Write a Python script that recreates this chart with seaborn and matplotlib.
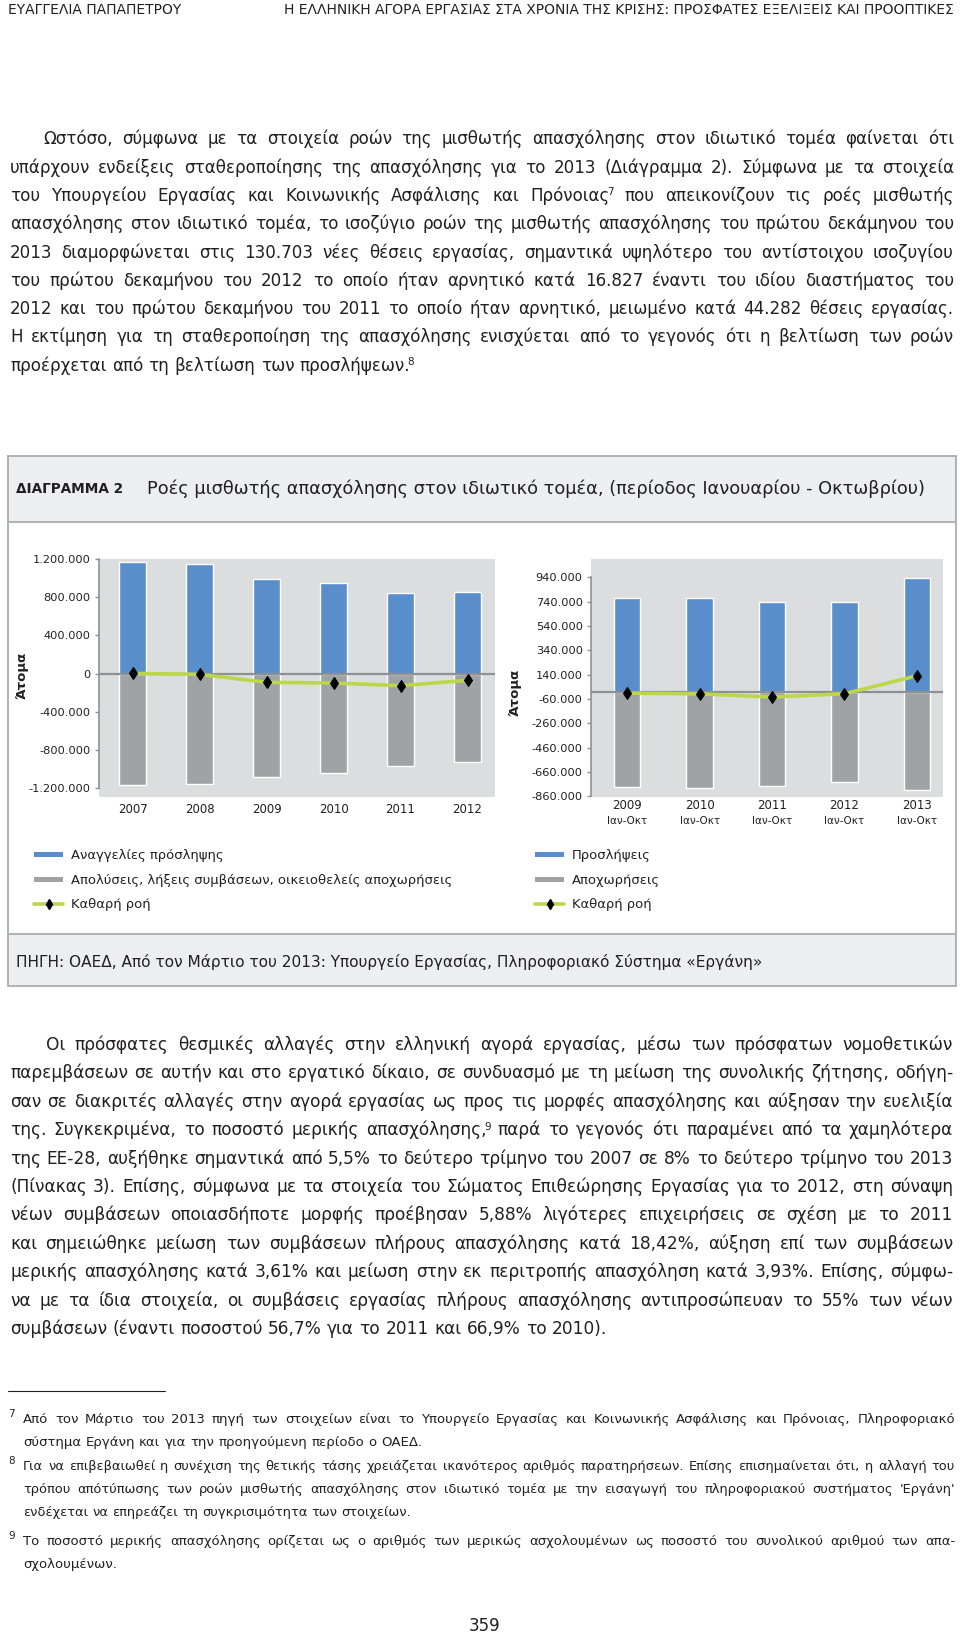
import numpy as np
import matplotlib
matplotlib.use('Agg')
import matplotlib.pyplot as plt
from matplotlib.font_manager import FontProperties
from matplotlib.patches import Rectangle
from matplotlib.lines import Line2D
import seaborn as sns

# left chart: yearly flows (announcements), persons
years_a = ['2007', '2008', '2009', '2010', '2011', '2012']
hires_a = [1172000, 1147000, 990000, 948000, 843000, 853000]
exits_a = [-1168000, -1154000, -1077000, -1039000, -965000, -920000]
net_a = [3000, -7000, -91000, -98000, -126000, -70000]
ticks_a = [-1200000, -800000, -400000, 0, 400000, 800000, 1200000]

# right chart: January-October flows
years_b = ['2009', '2010', '2011', '2012', '2013']
period_b = 'Ιαν-Οκτ'
hires_b = [768000, 773000, 735000, 735000, 938000]
exits_b = [-785000, -790000, -779000, -746000, -807000]
net_b = [-12000, -18000, -44282, -16827, 130703]
ticks_b = [-860000, -660000, -460000, -260000, -60000, 140000, 340000, 540000, 740000, 940000]

legend_a = ['Αναγγελίες πρόσληψης', 'Απολύσεις, λήξεις συμβάσεων, οικειοθελείς αποχωρήσεις', 'Καθαρή ροή']
legend_b = ['Προσλήψεις', 'Αποχωρήσεις', 'Καθαρή ροή']
y_label = 'Άτομα'

header_left = 'ΕΥΑΓΓΕΛΙΑ ΠΑΠΑΠΕΤΡΟΥ'
header_right = 'Η ΕΛΛΗΝΙΚΗ ΑΓΟΡΑ ΕΡΓΑΣΙΑΣ ΣΤΑ ΧΡΟΝΙΑ ΤΗΣ ΚΡΙΣΗΣ: ΠΡΟΣΦΑΤΕΣ ΕΞΕΛΙΞΕΙΣ ΚΑΙ ΠΡΟΟΠΤΙΚΕΣ'
chart_no = 'ΔΙΑΓΡΑΜΜΑ 2'
chart_title = 'Ροές μισθωτής απασχόλησης στον ιδιωτικό τομέα, (περίοδος Ιανουαρίου - Οκτωβρίου)'
source = 'ΠΗΓΗ: ΟΑΕΔ, Από τον Μάρτιο του 2013: Υπουργείο Εργασίας, Πληροφοριακό Σύστημα «Εργάνη»'

para1 = [
    'Ωστόσο, σύμφωνα με τα στοιχεία ροών της μισθωτής απασχόλησης στον ιδιωτικό τομέα φαίνεται ότι',
    'υπάρχουν ενδείξεις σταθεροποίησης της απασχόλησης για το 2013 (Διάγραμμα 2). Σύμφωνα με τα στοιχεία',
    'του Υπουργείου Εργασίας και Κοινωνικής Ασφάλισης και Πρόνοιας⁷ που απεικονίζουν τις ροές μισθωτής',
    'απασχόλησης στον ιδιωτικό τομέα, το ισοζύγιο ροών της μισθωτής απασχόλησης του πρώτου δεκάμηνου του',
    '2013 διαμορφώνεται στις 130.703 νέες θέσεις εργασίας, σημαντικά υψηλότερο του αντίστοιχου ισοζυγίου',
    'του πρώτου δεκαμήνου του 2012 το οποίο ήταν αρνητικό κατά 16.827 έναντι του ιδίου διαστήματος του',
    '2012 και του πρώτου δεκαμήνου του 2011 το οποίο ήταν αρνητικό, μειωμένο κατά 44.282 θέσεις εργασίας.',
    'Η εκτίμηση για τη σταθεροποίηση της απασχόλησης ενισχύεται από το γεγονός ότι η βελτίωση των ροών',
    'προέρχεται από τη βελτίωση των προσλήψεων.⁸',
]
para2 = [
    'Οι πρόσφατες θεσμικές αλλαγές στην ελληνική αγορά εργασίας, μέσω των πρόσφατων νομοθετικών',
    'παρεμβάσεων σε αυτήν και στο εργατικό δίκαιο, σε συνδυασμό με τη μείωση της συνολικής ζήτησης, οδήγη-',
    'σαν σε διακριτές αλλαγές στην αγορά εργασίας ως προς τις μορφές απασχόλησης και αύξησαν την ευελιξία',
    'της. Συγκεκριμένα, το ποσοστό μερικής απασχόλησης,⁹ παρά το γεγονός ότι παραμένει από τα χαμηλότερα',
    'της ΕΕ-28, αυξήθηκε σημαντικά από 5,5% το δεύτερο τρίμηνο του 2007 σε 8% το δεύτερο τρίμηνο του 2013',
    '(Πίνακας 3). Επίσης, σύμφωνα με τα στοιχεία του Σώματος Επιθεώρησης Εργασίας για το 2012, στη σύναψη',
    'νέων συμβάσεων οποιασδήποτε μορφής προέβησαν 5,88% λιγότερες επιχειρήσεις σε σχέση με το 2011',
    'και σημειώθηκε μείωση των συμβάσεων πλήρους απασχόλησης κατά 18,42%, αύξηση επί των συμβάσεων',
    'μερικής απασχόλησης κατά 3,61% και μείωση στην εκ περιτροπής απασχόληση κατά 3,93%. Επίσης, σύμφω-',
    'να με τα ίδια στοιχεία, οι συμβάσεις εργασίας πλήρους απασχόλησης αντιπροσώπευαν το 55% των νέων',
    'συμβάσεων (έναντι ποσοστού 56,7% για το 2011 και 66,9% το 2010).',
]
notes = [
    ('7', ['Από τον Μάρτιο του 2013 πηγή των στοιχείων είναι το Υπουργείο Εργασίας και Κοινωνικής Ασφάλισης και Πρόνοιας, Πληροφοριακό',
           'σύστημα Εργάνη και για την προηγούμενη περίοδο ο ΟΑΕΔ.']),
    ('8', ['Για να επιβεβαιωθεί η συνέχιση της θετικής τάσης χρειάζεται ικανότερος αριθμός παρατηρήσεων. Επίσης επισημαίνεται ότι, η αλλαγή του',
           "τρόπου απότύπωσης των ροών μισθωτής απασχόλησης στον ιδιωτικό τομέα με την εισαγωγή του πληροφοριακού συστήματος 'Εργάνη'",
           'ενδέχεται να επηρεάζει τη συγκρισιμότητα των στοιχείων.']),
    ('9', ['Το ποσοστό μερικής απασχόλησης ορίζεται ως ο αριθμός των μερικώς ασχολουμένων ως ποσοστό του συνολικού αριθμού των απα-',
           'σχολουμένων.']),
]
page_no = '359'

BLUE = '#5A8DCB'
GREY = '#A0A3A6'
GREEN = '#BED64A'
PANEL = '#DCDDDF'
BAND = '#ECEEF1'
FRAME = '#A9ADB1'
AXIS = '#8E9194'
INK = '#231F20'
FAMILY = ['DejaVu Sans']
SUP = {'⁷': '7', '⁸': '8', '⁹': '9'}

sns.set_style('white')
plt.rcParams['font.family'] = FAMILY

W, H = 960, 1637
fig = plt.figure(figsize=(W / 100, H / 100), dpi=100)
renderer = fig.canvas.get_renderer()


def fx(x):
    return x / W


def fy(y):
    return 1 - y / H


def width(s, size, weight='normal'):
    prop = FontProperties(family=FAMILY, size=size, weight=weight)
    return renderer.get_text_width_height_descent(s, prop, ismath=False)[0]


def put(x, y, s, size, **kw):
    kw.setdefault('va', 'baseline')
    kw.setdefault('color', INK)
    fig.text(fx(x), fy(y), s, fontsize=size, **kw)


def fit(s, x0, x1, weight='normal'):
    return 10 * (x1 - x0) / width(s, 10, weight)


# words ending in a footnote mark get a raised, smaller digit
SUP_GAP = -2.5


def word_width(w, size):
    if w[-1] in SUP:
        return width(w[:-1], size) + SUP_GAP + width(SUP[w[-1]], size * 0.62)
    return width(w, size)


def draw_word(x, y, w, size):
    if w[-1] in SUP:
        put(x, y, w[:-1], size)
        put(x + width(w[:-1], size) + SUP_GAP, y - size * 0.45, SUP[w[-1]], size * 0.62)
    else:
        put(x, y, w, size)


def paragraph(lines, left, right, base, step, size, indent=0):
    for i, line in enumerate(lines[:-1]):
        room = right - left - (indent if i == 0 else 0)
        size = min(size, size * room / width(line, size) * 0.995)
    space = width('α α', size) - 2 * width('α', size)
    for i, line in enumerate(lines):
        x = left + (indent if i == 0 else 0)
        y = base + i * step
        words = line.split()
        ws = [word_width(w, size) for w in words]
        if i == len(lines) - 1:
            gap = space
        else:
            gap = (right - x - sum(ws)) / (len(words) - 1)
        for w, wd in zip(words, ws):
            draw_word(x, y, w, size)
            x += wd + gap
    return size


def fmt(v):
    return f'{v:,}'.replace(',', '.')


def chart(px, cats, hires, exits, net, ticks, ylim, xlim, bar_w, pad):
    x0, y0, x1, y1 = px
    ax = fig.add_axes([fx(x0), fy(y1), (x1 - x0) / W, (y1 - y0) / H])
    ax.set_facecolor(PANEL)
    sns.barplot(x=cats, y=hires, color=BLUE, saturation=1, width=bar_w,
                errorbar=None, ax=ax, zorder=2)
    sns.barplot(x=cats, y=exits, color=GREY, saturation=1, width=bar_w,
                errorbar=None, ax=ax, zorder=2)
    ax.axhline(0, color=AXIS, lw=1.6, zorder=3)
    sns.lineplot(x=np.arange(len(cats)), y=net, color=GREEN, lw=2.6,
                 marker='d', markersize=6.5, markerfacecolor='black',
                 markeredgecolor='black', ax=ax, zorder=4)
    ax.set_xlim(*xlim)
    ax.set_ylim(*ylim)
    ax.set_yticks(ticks)
    ax.set_yticklabels([fmt(t) for t in ticks])
    ax.set_xticks(range(len(cats)))
    ax.set_xticklabels(cats)
    ax.set_xlabel('')
    ax.set_ylabel('')
    for side in ['top', 'right', 'bottom']:
        ax.spines[side].set_visible(False)
    ax.spines['left'].set_color(AXIS)
    ax.spines['left'].set_linewidth(1.2)
    ax.spines['left'].set_bounds(ticks[0], ticks[-1])
    ax.tick_params(axis='y', length=3, width=1, color=AXIS, pad=3,
                   labelsize=8.2, labelcolor=INK, left=True)
    ax.tick_params(axis='x', length=0, pad=pad, labelsize=8.5, labelcolor=INK)
    ax.grid(False)
    return ax


# header
hs = fit(header_right, 284, 954)
put(8, 14, header_left, hs)
put(284, 14, header_right, hs)

# body text
paragraph(para1, 10, 954, 144.3, 28.3, 12.5, indent=33)
paragraph(para2, 10, 953, 1050, 28.4, 12.5, indent=36)

# chart frame and bands
fig.add_artist(Rectangle((fx(8.3), fy(522)), (956 - 8.3) / W, 66 / H,
                         transform=fig.transFigure, facecolor=BAND, edgecolor='none'))
fig.add_artist(Rectangle((fx(8.3), fy(986)), (956 - 8.3) / W, 52 / H,
                         transform=fig.transFigure, facecolor=BAND, edgecolor='none'))
fig.add_artist(Rectangle((fx(8.3), fy(986)), (956 - 8.3) / W, 530 / H,
                         transform=fig.transFigure, facecolor='none',
                         edgecolor=FRAME, lw=1.3))
for yy in (522, 934):
    fig.add_artist(Line2D([fx(8.3), fx(956)], [fy(yy), fy(yy)],
                          transform=fig.transFigure, color=FRAME, lw=1.3))

put(16, 493, chart_no, fit(chart_no, 16, 123, 'bold'), weight='bold')
put(147, 494, chart_title, fit(chart_title, 147, 920))
put(16, 967, source, fit(source, 16, 762))

# charts
chart((99, 559, 495, 797), years_a, hires_a, exits_a, net_a, ticks_a,
      (-1291000, 1200000), (-0.5, 5.41), 0.39, 4.3)
axb = chart((591, 559, 943, 797), years_b, hires_b, exits_b, net_b, ticks_b,
            (-867000, 1092000), (-0.5, 4.36), 0.363, 1.5)
for i in range(len(years_b)):
    axb.text(i, -0.1, period_b, transform=axb.get_xaxis_transform(),
             ha='center', va='center', fontsize=7.5, color=INK)
fig.text(fx(21.7), fy(675), y_label, rotation=90, ha='center', va='center',
         fontsize=9.5, weight='bold', color=INK)
fig.text(fx(515), fy(692), y_label, rotation=90, ha='center', va='center',
         fontsize=9.5, weight='bold', color=INK)

# legends
ls = fit(legend_a[1], 71, 451)
rows = [854.6, 879.6, 903.7]
for sx, labels in ((34, legend_a), (535, legend_b)):
    for k, (yy, lab) in enumerate(zip(rows, labels)):
        if k < 2:
            fig.add_artist(Rectangle((fx(sx), fy(yy + 2.5)), 29 / W, 5 / H,
                                     transform=fig.transFigure,
                                     facecolor=[BLUE, GREY][k], edgecolor='none'))
        else:
            fig.add_artist(Line2D([fx(sx), fx(sx + 29)], [fy(yy), fy(yy)],
                                  transform=fig.transFigure, color=GREEN, lw=2.6))
            fig.add_artist(Line2D([fx(sx + 14.5)], [fy(yy)], transform=fig.transFigure,
                                  marker='d', ms=5, color='black', lw=0))
        put(sx + 37, yy + 4.5, lab, ls)

# footnotes
fig.add_artist(Line2D([fx(8), fx(165)], [fy(1391), fy(1391)],
                      transform=fig.transFigure, color=INK, lw=0.8))
note_base = [1423, 1470, 1545]
for (num, lines), base in zip(notes, note_base):
    put(8, base - 6, num, 7.5)
    paragraph(lines, 23, 955, base, 23, 9.5)

put(484, 1631, page_no, 12, ha='center')

fig.savefig('out.png', dpi=100)
